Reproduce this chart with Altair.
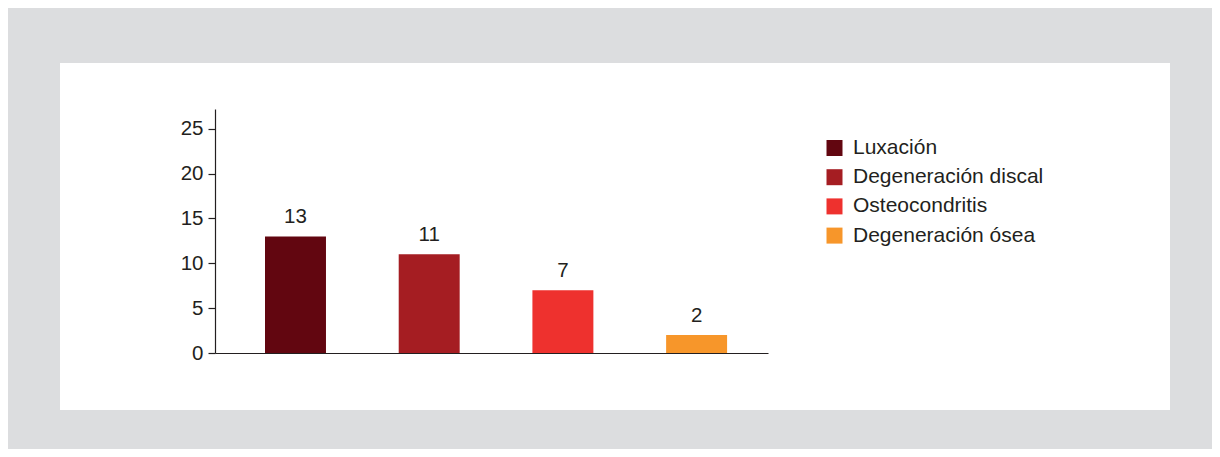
import altair as alt
import pandas as pd

categories = ["Luxación", "Degeneración discal", "Osteocondritis", "Degeneración ósea"]
values = [13, 11, 7, 2]
colors = ["#620610", "#a51d22", "#ee312e", "#f7962a"]
y_ticks = [0, 5, 10, 15, 20, 25]

df = pd.DataFrame({"cat": categories, "val": values})
FONT = "Liberation Sans"
FS = 20.5
TXT = "#231f20"

panel = alt.Chart(pd.DataFrame({"p": [0]})).mark_rect(color="white").encode(
    x=alt.value(-155), x2=alt.value(955), y=alt.value(-46), y2=alt.value(301)
)

xenc = alt.X("cat:N", sort=categories, title=None,
             scale=alt.Scale(paddingInner=0.544, paddingOuter=0.34, align=0.55),
             axis=alt.Axis(labels=False, ticks=False, domain=True, domainColor=TXT,
                           domainWidth=1.2, grid=False, zindex=2))
yenc = alt.Y("val:Q", title=None,
             scale=alt.Scale(domain=[0, 27.2], nice=False, zero=True),
             axis=alt.Axis(values=y_ticks, grid=False, domainColor=TXT, domainWidth=1.2,
                           tickColor=TXT, tickSize=7, tickWidth=1.2, labelPadding=5,
                           labelFont=FONT, labelFontSize=FS, labelColor=TXT, zindex=2))

bars = alt.Chart(df).mark_bar().encode(
    x=xenc, y=yenc,
    color=alt.Color("cat:N", sort=categories,
                    scale=alt.Scale(domain=categories, range=colors),
                    legend=alt.Legend(title=None, orient="none", legendX=609, legendY=28.5,
                                      symbolType="square", symbolSize=256,
                                      symbolStrokeWidth=0, symbolOpacity=1,
                                      labelFont=FONT, labelFontSize=21, labelColor=TXT,
                                      labelOffset=8, rowPadding=7.2, labelLimit=400))
)

labels = alt.Chart(df).mark_text(dy=-13, baseline="alphabetic", font=FONT,
                                 fontSize=FS, color=TXT).encode(
    x=alt.X("cat:N", sort=categories), y="val:Q", text="val:Q"
)

chart = alt.layer(panel, bars, labels).properties(
    width=553, height=244,
    background="#dcdddf",
    padding={"left": 207, "top": 101, "right": 444, "bottom": 96},
    autosize=alt.AutoSizeParams(type="none"),
).configure_view(stroke=None)

chart.save("out.html", embed_options={"renderer": "svg", "actions": False})
